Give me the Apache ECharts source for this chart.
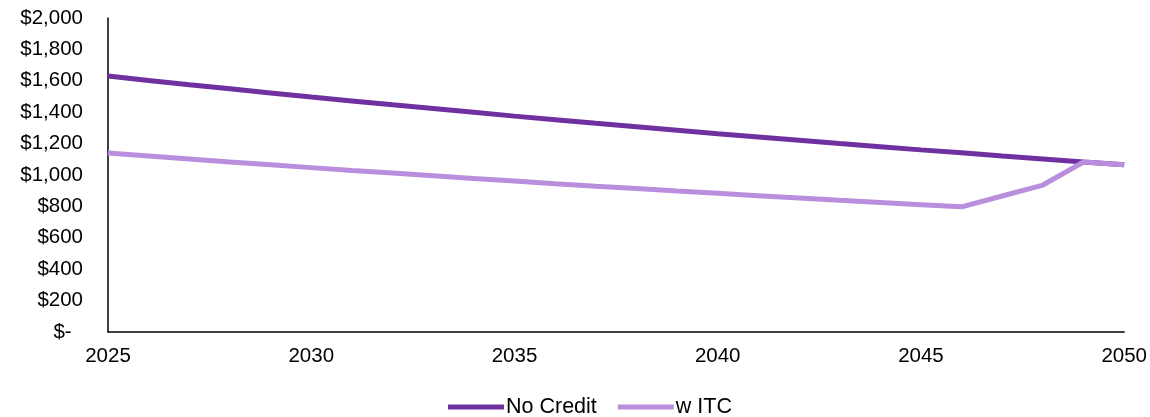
<!DOCTYPE html>
<html>
<head>
<meta charset="utf-8">
<script src="https://cdn.jsdelivr.net/npm/echarts@6/dist/echarts.min.js"></script>
<style>html,body{margin:0;padding:0;background:#fff}#c{width:1150px;height:417px}</style>
</head>
<body>
<div id="c"></div>
<script>
const years = [2025,2026,2027,2028,2029,2030,2031,2032,2033,2034,2035,2036,2037,2038,2039,2040,2041,2042,2043,2044,2045,2046,2047,2048,2049,2050];
const noCredit = [1630,1602,1575,1549,1523,1497,1472,1447,1423,1399,1375,1352,1329,1307,1285,1263,1242,1221,1200,1180,1160,1141,1121,1102,1083,1065];
const wITC = [1140,1121,1102,1083,1065,1047,1029,1012,995,978,962,945,929,914,898,883,868,854,839,825,811,797,866,936,1083,1065];
const seriesNames = ['No Credit','w ITC'];
const colors = ['#7030A0','#B98EDD'];

const font = 'Arial, "Liberation Sans", sans-serif';
const chart = echarts.init(document.getElementById('c'), null, {renderer:'canvas'});
const mk = (name, vals, color) => ({
  name, type:'line', data: years.map((y,i)=>[y, vals[i]]),
  showSymbol:false, symbol:'none', lineStyle:{color, width:5}, itemStyle:{color},
  animation:false, z: name==='No Credit'?2:3
});
chart.setOption({
  animation:false,
  grid:{left:108, right:23, top:18, bottom:85, containLabel:false},
  legend:{
    bottom:-6, left:443, itemWidth:56, itemHeight:5, itemGap:21, icon:'rect',
    textStyle:{fontFamily:font, fontSize:21.5, color:'#000', padding:[0,0,0,-3]},
    data:seriesNames
  },
  xAxis:{
    type:'value', min:2025, max:2050, interval:5,
    axisLine:{show:true, lineStyle:{color:'#000', width:1.5}},
    axisTick:{show:false}, splitLine:{show:false},
    axisLabel:{fontFamily:font, fontSize:20.5, color:'#000', margin:14, formatter:v=>String(v)}
  },
  yAxis:{
    type:'value', min:0, max:2000, interval:200,
    axisLine:{show:true, lineStyle:{color:'#000', width:1.5}},
    axisTick:{show:false}, splitLine:{show:false},
    axisLabel:{fontFamily:font, fontSize:20.5, color:'#000', margin:25,
      formatter:v=> v===0 ? '$-  ' : '$' + v.toLocaleString('en-US')}
  },
  series:[mk(seriesNames[0], noCredit, colors[0]), mk(seriesNames[1], wITC, colors[1])]
});
</script>
</body>
</html>
